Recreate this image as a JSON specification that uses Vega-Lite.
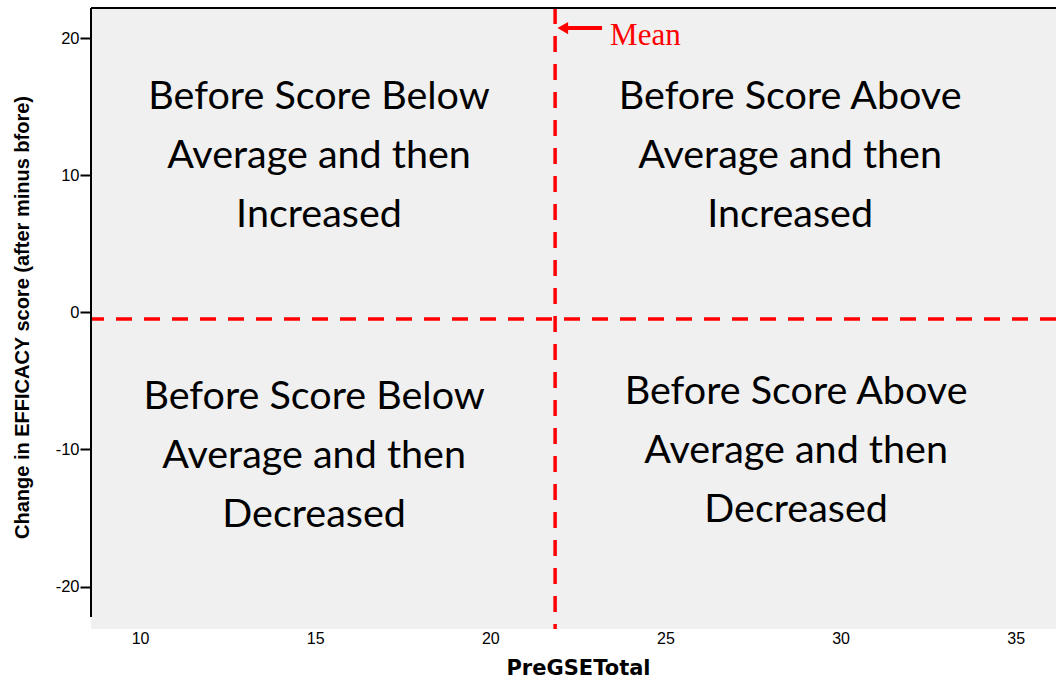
{
  "$schema": "https://vega.github.io/schema/vega-lite/v6.json",
  "autosize": "none",
  "width": 965,
  "height": 621,
  "padding": {"left": 91, "top": 8, "right": 0, "bottom": 51},
  "background": "white",
  "config": {
    "view": {"fill": "#f0f0f0", "stroke": null}
  },
  "datasets": {
    "quadrants": [
      {"pre": 15.11, "change": 15.70, "label": "Before Score Below\nAverage and then\nIncreased"},
      {"pre": 28.56, "change": 15.70, "label": "Before Score Above\nAverage and then\nIncreased"},
      {"pre": 14.97, "change": -6.18, "label": "Before Score Below\nAverage and then\nDecreased"},
      {"pre": 28.73, "change": -5.81, "label": "Before Score Above\nAverage and then\nDecreased"}
    ],
    "means": [{"meanPre": 21.85, "meanChange": -0.49}],
    "arrow": [{"pre": 23.19, "pre2": 22.16, "change": 20.74, "head": 22.07, "textX": 23.42, "textY": 20.15, "label": "Mean"}]
  },
  "layer": [
    {
      "data": {"name": "means"},
      "mark": {"type": "rule", "color": "#ff0000", "strokeWidth": 3.5, "strokeDash": [16, 12]},
      "encoding": {
        "x": {"field": "meanPre", "type": "quantitative",
          "scale": {"domain": [8.6, 36.15], "nice": false, "zero": false},
          "axis": {"values": [10, 15, 20, 25, 30, 35], "domain": false, "ticks": false, "grid": false,
            "labelFont": "Liberation Sans", "labelFontSize": 16, "labelColor": "black", "labelPadding": 1,
            "title": "PreGSETotal", "titleFont": "DejaVu Sans", "titleFontWeight": "bold", "titleFontSize": 21,
            "titleColor": "black", "titleX": 487, "titleY": 39, "titleBaseline": "middle", "titleAlign": "center"}
        }
      }
    },
    {
      "data": {"name": "means"},
      "mark": {"type": "rule", "color": "#ff0000", "strokeWidth": 3.5, "strokeDash": [16, 12]},
      "encoding": {
        "y": {"field": "meanChange", "type": "quantitative",
          "scale": {"domain": [-23.1, 22.2], "nice": false, "zero": false},
          "axis": {"values": [-20, -10, 0, 10, 20], "domain": false,
            "labelExpr": "datum.value < 0 ? '-' + abs(datum.value) : '' + datum.value",
            "ticks": true, "tickColor": "black", "tickWidth": 2, "tickSize": 11, "grid": false,
            "labelFont": "Liberation Sans", "labelFontSize": 16.5, "labelColor": "black", "labelPadding": 1,
            "title": "Change in EFFICACY score (after minus bfore)", "titleFont": "Liberation Sans",
            "titleFontWeight": "bold", "titleFontSize": 20, "titleColor": "black",
            "titleAngle": -90, "titleX": -69, "titleY": 309, "titleAlign": "center", "titleBaseline": "middle"}
        }
      }
    },
    {
      "data": {"name": "means"},
      "mark": {"type": "rule", "color": "black", "strokeWidth": 2},
      "encoding": {"y": {"datum": 22.2, "type": "quantitative"}}
    },
    {
      "data": {"name": "means"},
      "mark": {"type": "rule", "color": "black", "strokeWidth": 2},
      "encoding": {
        "x": {"datum": 8.6, "type": "quantitative"},
        "y": {"datum": 22.2, "type": "quantitative"},
        "y2": {"datum": -22.22}
      }
    },
    {
      "data": {"name": "quadrants"},
      "mark": {"type": "text", "font": "Lato", "fontSize": 39.5, "lineBreak": "\n", "lineHeight": 59,
        "align": "center", "baseline": "middle", "color": "black"},
      "encoding": {
        "x": {"field": "pre", "type": "quantitative"},
        "y": {"field": "change", "type": "quantitative"},
        "text": {"field": "label"}
      }
    },
    {
      "data": {"name": "arrow"},
      "mark": {"type": "rule", "color": "#ff0000", "strokeWidth": 4},
      "encoding": {
        "x": {"field": "pre", "type": "quantitative"},
        "x2": {"field": "pre2"},
        "y": {"field": "change", "type": "quantitative"}
      }
    },
    {
      "data": {"name": "arrow"},
      "mark": {"type": "point", "shape": "triangle-left", "filled": true, "color": "#ff0000", "size": 150, "opacity": 1},
      "encoding": {
        "x": {"field": "head", "type": "quantitative"},
        "y": {"field": "change", "type": "quantitative"}
      }
    },
    {
      "data": {"name": "arrow"},
      "mark": {"type": "text", "font": "Liberation Serif", "fontSize": 31, "align": "left", "baseline": "middle", "color": "#ff0000"},
      "encoding": {
        "x": {"field": "textX", "type": "quantitative"},
        "y": {"field": "textY", "type": "quantitative"},
        "text": {"field": "label"}
      }
    }
  ]
}
